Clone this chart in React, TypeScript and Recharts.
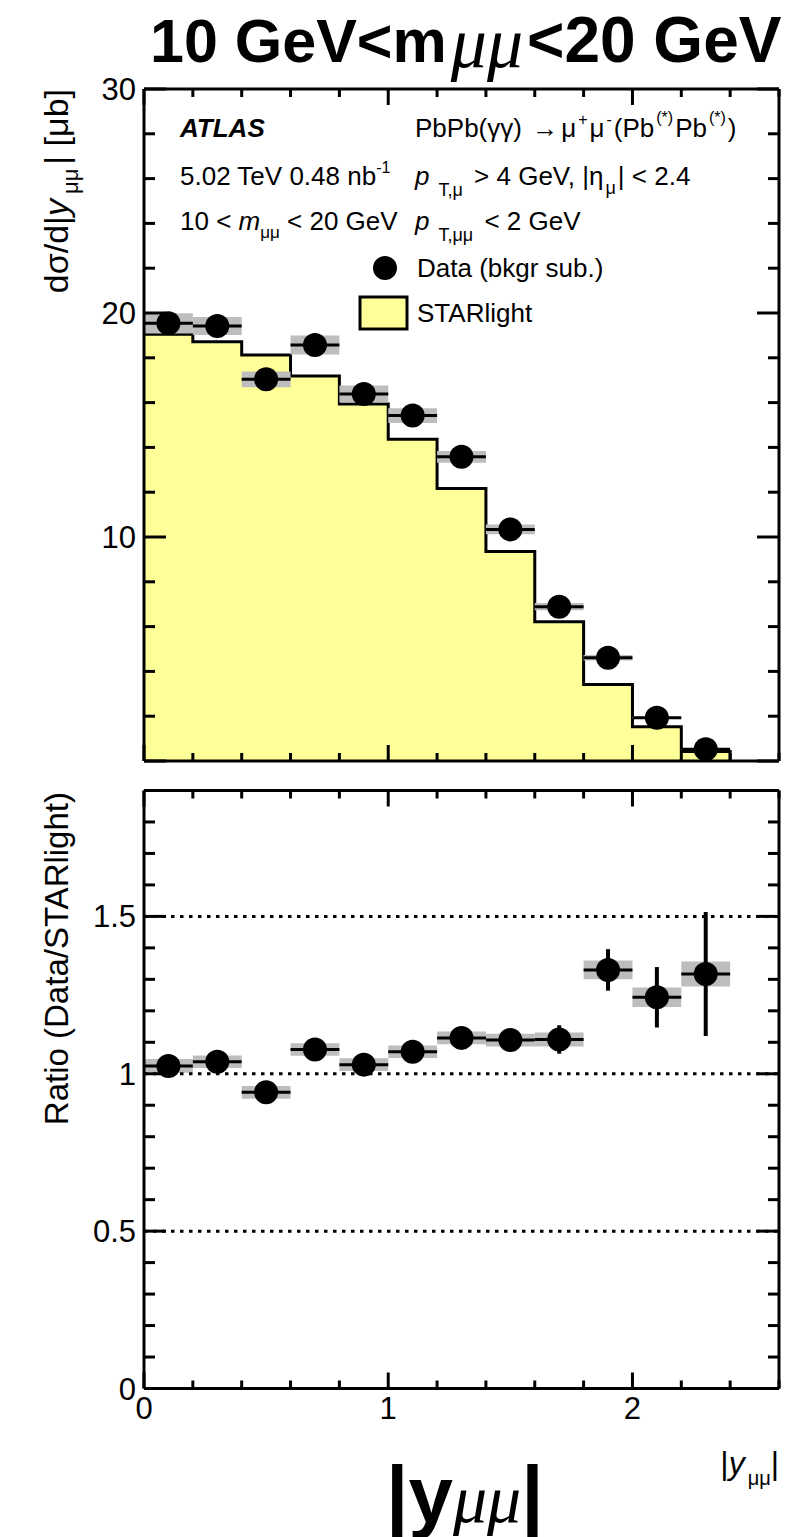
import {
  Area,
  ComposedChart,
  ErrorBar,
  ReferenceArea,
  ReferenceLine,
  Scatter,
  XAxis,
  YAxis,
} from "recharts";

// |y_mumu| bins
const binEdges = [0, 0.2, 0.4, 0.6, 0.8, 1.0, 1.2, 1.4, 1.6, 1.8, 2.0, 2.2, 2.4];
const binCenters = [0.1, 0.3, 0.5, 0.7, 0.9, 1.1, 1.3, 1.5, 1.7, 1.9, 2.1, 2.3];
const binHalf = 0.1;

// dsigma/d|y| [ub]
const dataXsec = [19.54, 19.42, 17.04, 18.57, 16.38, 15.42, 13.58, 10.34, 6.89, 4.61, 1.93, 0.52];
const dataStat = [0.2, 0.2, 0.2, 0.22, 0.2, 0.2, 0.2, 0.18, 0.2, 0.2, 0.14, 0.08];
const dataSyst = [0.45, 0.4, 0.35, 0.42, 0.38, 0.33, 0.26, 0.22, 0.16, 0.12, 0.06, 0.03];
const starlight = [19.05, 18.72, 18.12, 17.19, 15.94, 14.36, 12.17, 9.35, 6.22, 3.42, 1.53, 0.42];

// Data / STARlight
const ratio = [1.025, 1.038, 0.941, 1.077, 1.029, 1.07, 1.114, 1.107, 1.109, 1.33, 1.243, 1.317];
const ratioStat = [0.012, 0.012, 0.012, 0.013, 0.013, 0.014, 0.016, 0.02, 0.045, 0.066, 0.096, 0.197];
const ratioSyst = [0.022, 0.02, 0.02, 0.02, 0.02, 0.02, 0.02, 0.02, 0.022, 0.03, 0.031, 0.04];

const xTicks = [0, 0.2, 0.4, 0.6, 0.8, 1, 1.2, 1.4, 1.6, 1.8, 2, 2.2, 2.4, 2.6];
const xMajor = [0, 1, 2];
const xLabels = [0, 1, 2];
const topYTicks = [0, 2, 4, 6, 8, 10, 12, 14, 16, 18, 20, 22, 24, 26, 28, 30];
const topYMajor = [0, 10, 20, 30];
const topYLabels = [10, 20, 30];
const ratioYTicks = [0, 0.1, 0.2, 0.3, 0.4, 0.5, 0.6, 0.7, 0.8, 0.9, 1, 1.1, 1.2, 1.3, 1.4, 1.5, 1.6, 1.7, 1.8, 1.9];
const ratioYMajor = [0, 0.5, 1, 1.5];
const ratioYLabels = [0, 0.5, 1, 1.5];
const ratioLines = [0.5, 1, 1.5];

const histData = [
  ...binEdges.slice(0, -1).map((x, i) => ({ x, v: starlight[i] })),
  { x: binEdges[binEdges.length - 1], v: starlight[starlight.length - 1] },
  { x: binEdges[binEdges.length - 1], v: 0 },
];
const topPoints = binCenters.map((x, i) => ({
  x,
  y: dataXsec[i],
  ex: binHalf,
  ey: dataStat[i],
}));
const ratioPoints = binCenters.map((x, i) => ({
  x,
  y: ratio[i],
  ex: binHalf,
  ey: ratioStat[i],
}));

const SANS = "'Liberation Sans', Arial, Helvetica, sans-serif";
const SERIF = "'Liberation Serif', 'Times New Roman', serif";
const axisStyle = { stroke: "#000", strokeWidth: 3 };
const FILL = "#ffff99";
const GREY = "#bdbdbd";

function makeTick(
  side: string,
  majors: number[],
  labels: number[] | null,
  majorLen: number,
  minorLen: number
) {
  return (props: any) => {
    const { x, y, payload } = props;
    const v = payload.value;
    const len = majors.includes(v) ? majorLen : minorLen;
    let x2 = x;
    let y2 = y;
    if (side === "left") x2 = x + len;
    if (side === "right") x2 = x - len;
    if (side === "bottom") y2 = y - len;
    if (side === "top") y2 = y + len;
    const show = labels && labels.includes(v);
    return (
      <g>
        <line x1={x} y1={y} x2={x2} y2={y2} stroke="#000" strokeWidth={3} />
        {show && side === "left" && (
          <text x={x - 8} y={y + 11} textAnchor="end" fontFamily={SANS} fontSize={31} fill="#000">
            {String(v)}
          </text>
        )}
        {show && side === "bottom" && (
          <text x={x} y={y + 30} textAnchor="middle" fontFamily={SANS} fontSize={31} fill="#000">
            {String(v)}
          </text>
        )}
      </g>
    );
  };
}

const dot = (p: any) => <circle cx={p.cx} cy={p.cy} r={12} fill="#000" />;

// frame: four axes, ticks drawn inwards like ROOT
function axes(yDomain: number[], yTicks: number[], yMajor: number[], yLabels: number[], xLab: number[] | null) {
  return [
    <XAxis
      key="xb"
      xAxisId={0}
      type="number"
      dataKey="x"
      domain={[0, 2.6]}
      allowDataOverflow
      ticks={xTicks}
      interval={0}
      height={1}
      tickSize={0}
      tickMargin={0}
      tickLine={false}
      axisLine={axisStyle}
      tick={makeTick("bottom", xMajor, xLab, 16, 8)}
    />,
    <XAxis
      key="xt"
      xAxisId="t"
      orientation="top"
      type="number"
      dataKey="x"
      domain={[0, 2.6]}
      allowDataOverflow
      ticks={xTicks}
      interval={0}
      height={1}
      tickSize={0}
      tickMargin={0}
      tickLine={false}
      axisLine={axisStyle}
      tick={makeTick("top", xMajor, null, 16, 8)}
    />,
    <YAxis
      key="yl"
      yAxisId={0}
      type="number"
      domain={yDomain}
      allowDataOverflow
      ticks={yTicks}
      interval={0}
      width={1}
      tickSize={0}
      tickMargin={0}
      tickLine={false}
      axisLine={axisStyle}
      tick={makeTick("left", yMajor, yLabels, 22, 11)}
    />,
    <YAxis
      key="yr"
      yAxisId="r"
      orientation="right"
      type="number"
      domain={yDomain}
      allowDataOverflow
      ticks={yTicks}
      interval={0}
      width={1}
      tickSize={0}
      tickMargin={0}
      tickLine={false}
      axisLine={axisStyle}
      tick={makeTick("right", yMajor, null, 22, 11)}
    />,
  ];
}

function TopPanel() {
  return (
    <ComposedChart width={799} height={780} margin={{ top: 88, right: 19, bottom: 18, left: 143 }}>
      <Area
        data={histData}
        type="stepAfter"
        dataKey="v"
        fill={FILL}
        fillOpacity={1}
        stroke="#000"
        strokeWidth={3}
        dot={false}
        activeDot={false}
        isAnimationActive={false}
      />
      {binCenters.map((c, i) => (
        <ReferenceArea
          key={"s" + i}
          x1={c - binHalf}
          x2={c + binHalf}
          y1={dataXsec[i] - dataSyst[i]}
          y2={dataXsec[i] + dataSyst[i]}
          fill={GREY}
          fillOpacity={1}
          stroke="none"
        />
      ))}
      <Scatter data={topPoints} dataKey="y" shape={dot} isAnimationActive={false}>
        <ErrorBar dataKey="ex" direction="x" width={0} stroke="#000" strokeWidth={3} />
        <ErrorBar dataKey="ey" direction="y" width={0} stroke="#000" strokeWidth={3} />
      </Scatter>
      {axes([0, 30], topYTicks, topYMajor, topYLabels, null)}
    </ComposedChart>
  );
}

function RatioPanel() {
  return (
    <ComposedChart width={799} height={757} margin={{ top: 9.5, right: 19, bottom: 147.5, left: 143 }}>
      {ratioLines.map((v) => (
        <ReferenceLine key={"l" + v} y={v} stroke="#000" strokeWidth={3} strokeDasharray="3.5 5.5" />
      ))}
      {binCenters.map((c, i) => (
        <ReferenceArea
          key={"r" + i}
          x1={c - binHalf}
          x2={c + binHalf}
          y1={ratio[i] - ratioSyst[i]}
          y2={ratio[i] + ratioSyst[i]}
          fill={GREY}
          fillOpacity={1}
          stroke="none"
        />
      ))}
      <Scatter data={ratioPoints} dataKey="y" shape={dot} isAnimationActive={false}>
        <ErrorBar dataKey="ex" direction="x" width={0} stroke="#000" strokeWidth={3} />
        <ErrorBar dataKey="ey" direction="y" width={0} stroke="#000" strokeWidth={4} />
      </Scatter>
      {axes([0, 1.9], ratioYTicks, ratioYMajor, ratioYLabels, xLabels)}
    </ComposedChart>
  );
}

function Texts() {
  const t = { fontFamily: SANS, fontSize: 26, fill: "#000" };
  return (
    <svg
      width={799}
      height={1537}
      style={{ position: "absolute", left: 0, top: 0, pointerEvents: "none" }}
    >
      {/* title */}
      <text x={150} y={62} fontFamily={SANS} fontWeight="bold" fontSize={61} fill="#000">
        10 GeV&lt;m
        <tspan fontFamily={SERIF} fontStyle="italic" fontWeight="normal" fontSize={72} dx={4} dy={5}>
          μμ
        </tspan>
        <tspan dx={4} dy={-5} fontSize={64}>&lt;20 GeV</tspan>
      </text>

      {/* labels inside top panel */}
      <text x={180} y={137} {...t} fontWeight="bold" fontStyle="italic">
        ATLAS
      </text>
      <text x={415} y={137} {...t}>
        PbPb(γγ) <tspan dx={3}>→</tspan>
        <tspan dx={3}>μ</tspan>
        <tspan fontSize={16} dx={2} dy={-12}>+</tspan>
        <tspan dx={2} dy={12}>μ</tspan>
        <tspan fontSize={16} dx={2} dy={-12}>-</tspan>
        <tspan dx={2} dy={12}>(Pb</tspan>
        <tspan fontSize={16} dx={2} dy={-14}>(*)</tspan>
        <tspan dx={2} dy={14}>Pb</tspan>
        <tspan fontSize={16} dx={2} dy={-14}>(*)</tspan>
        <tspan dx={2} dy={14}>)</tspan>
      </text>
      <text x={180} y={185} {...t}>
        5.02 TeV 0.48 nb<tspan fontSize={16} dy={-12}>-1</tspan>
      </text>
      <text x={415} y={185} {...t}>
        <tspan fontStyle="italic">p</tspan>
        <tspan fontSize={18} dy={11} dx={9}>T,μ</tspan>
        <tspan dx={4} dy={-11}> &gt; 4 GeV, |η</tspan>
        <tspan fontSize={18} dx={2} dy={9}>μ</tspan>
        <tspan dx={2} dy={-9}>| &lt; 2.4</tspan>
      </text>
      <text x={180} y={230} {...t}>
        10 &lt; <tspan fontStyle="italic">m</tspan>
        <tspan fontSize={17} dy={8}>μμ</tspan>
        <tspan dy={-8}> &lt; 20 GeV</tspan>
      </text>
      <text x={415} y={230} {...t}>
        <tspan fontStyle="italic">p</tspan>
        <tspan fontSize={18} dy={11} dx={9}>T,μμ</tspan>
        <tspan dx={4} dy={-11}> &lt; 2 GeV</tspan>
      </text>

      {/* legend */}
      <circle cx={385} cy={268} r={12} fill="#000" />
      <text x={417} y={277} {...t}>
        Data (bkgr sub.)
      </text>
      <rect x={360} y={297} width={47} height={32} fill={FILL} stroke="#000" strokeWidth={3} />
      <text x={417} y={322} {...t}>
        STARlight
      </text>

      {/* y titles */}
      <text transform="translate(68, 89) rotate(-90)" textAnchor="end" fontFamily={SANS} fontSize={34} fill="#000">
        dσ/d|<tspan fontStyle="italic">y</tspan>
        <tspan fontSize={22} dx={5} dy={10}>μμ</tspan>
        <tspan dx={4} dy={-10}>| [μb]</tspan>
      </text>
      <text transform="translate(68, 792) rotate(-90)" textAnchor="end" fontFamily={SANS} fontSize={33} fill="#000">
        Ratio (Data/STARlight)
      </text>

      {/* x titles */}
      <text x={779} y={1474} textAnchor="end" fontFamily={SANS} fontSize={32} fill="#000">
        |<tspan fontStyle="italic">y</tspan>
        <tspan fontSize={20} dx={3} dy={11}>μμ</tspan>
        <tspan dy={-11}>|</tspan>
      </text>
      <text x={386} y={1522} fontFamily={SANS} fontWeight="bold" fontSize={80} fill="#000">
        |y
        <tspan fontFamily={SERIF} fontStyle="italic" fontWeight="normal" fontSize={68}>
          μμ
        </tspan>
        <tspan>|</tspan>
      </text>
    </svg>
  );
}

export default function App() {
  return (
    <div
      style={{
        position: "absolute",
        left: 0,
        top: 0,
        width: 799,
        height: 1537,
        background: "#fff",
        overflow: "hidden",
      }}
    >
      <div style={{ position: "absolute", left: 0, top: 0 }}>
        <TopPanel />
      </div>
      <div style={{ position: "absolute", left: 0, top: 780 }}>
        <RatioPanel />
      </div>
      <Texts />
    </div>
  );
}
